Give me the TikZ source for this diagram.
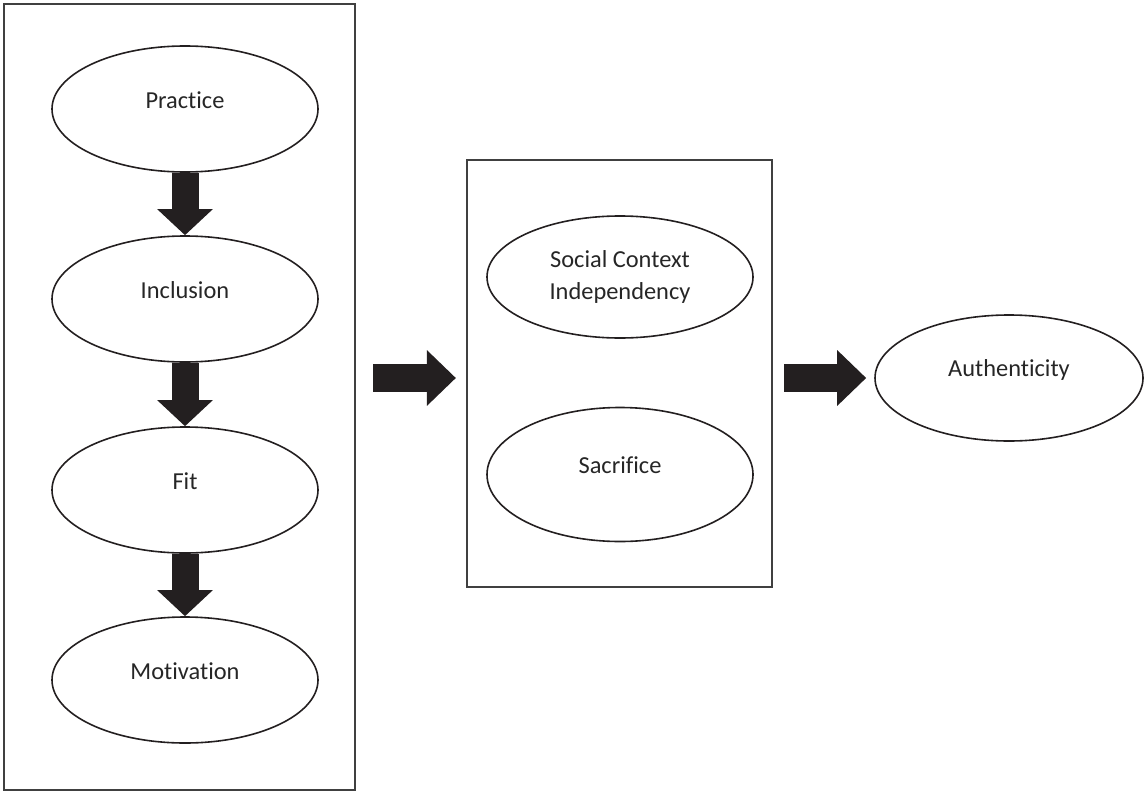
\documentclass[tikz,border=0pt]{standalone}
\usepackage{fontspec}
\setmainfont{Carlito}[RawFeature={-liga}]
\usetikzlibrary{shapes.geometric,arrows.meta}
\definecolor{inkgray}{HTML}{231F20}
\definecolor{framegray}{HTML}{404040}
\tikzset{frame/.style={draw=framegray, line width=1.1pt, inner sep=0pt}}
\tikzset{stage/.style={ellipse, draw=inkgray, line width=0.8pt, minimum width=133pt, minimum height=63pt, inner sep=0pt}}
\tikzset{txt/.style={text=black!85, font=\fontsize{12.2}{16}\selectfont, align=center}}
\tikzset{blockdown/.style={draw=inkgray, line width=13.5pt, -{Triangle[length=13pt, width=27pt]}}}
\tikzset{blockright/.style={draw=inkgray, line width=14pt, -{Triangle[length=14.5pt, width=27pt]}}}

\begin{document}
\begin{tikzpicture}[x=0.5pt, y=-0.5pt]
\useasboundingbox (0,0) rectangle (1144,792);
% left column
\node [frame, minimum width=175.5pt, minimum height=393pt] (leftbox) at (179.5,397) {};
\node [stage, label={[txt, yshift=4.5pt]center:Practice}] (practice) at (185,109) {};
\node [stage, label={[txt, yshift=4.5pt]center:Inclusion}] (inclusion) at (185,299) {};
\node [stage, label={[txt, yshift=4.5pt]center:Fit}] (fit) at (185,490) {};
\node [stage, label={[txt, yshift=4.5pt]center:Motivation}] (motivation) at (185,680) {};
\draw [blockdown] (practice.south) -- (inclusion.north);
\draw [blockdown] (inclusion.south) -- (fit.north);
\draw [blockdown] (fit.south) -- (motivation.north);
% middle column
\node [frame, minimum width=152.5pt, minimum height=213.5pt] (midbox) at (619.5,373.5) {};
\node [stage, minimum height=61pt, label={[txt]center:Social Context\\Independency}] (social) at (620,277) {};
\node [stage, minimum height=67pt, label={[txt, yshift=4.5pt]center:Sacrifice}] (sacrifice) at (620,474.5) {};
% outcome
\node [stage, minimum width=134pt, label={[txt, yshift=4pt]center:Authenticity}] (auth) at (1009,378) {};
\draw [blockright, shorten <=8.5pt, shorten >=5pt] (leftbox.east |- auth.west) -- (midbox.west |- auth.west);
\draw [blockright, shorten <=5.5pt, shorten >=4pt] (midbox.east |- auth.west) -- (auth.west);
\end{tikzpicture}
\end{document}
